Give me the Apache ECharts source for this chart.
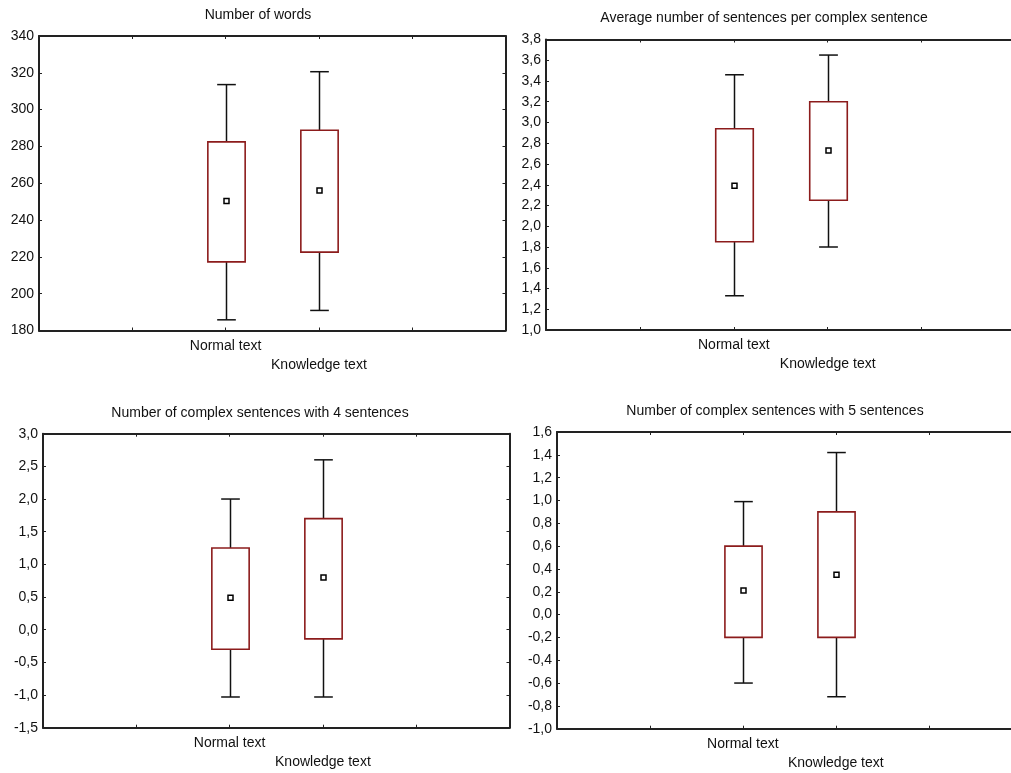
<!DOCTYPE html>
<html>
<head>
<meta charset="utf-8">
<script src="https://cdn.jsdelivr.net/npm/echarts@6/dist/echarts.min.js"></script>
<style>
html,body{margin:0;padding:0;background:#fff;}
#main{width:1011px;height:773px;}
</style>
</head>
<body>
<div id="main"></div>
<script>
// ---- data ----
const categories = ['Normal text', 'Knowledge text'];
const titles = [
  'Number of words',
  'Average number of sentences per complex sentence',
  'Number of complex sentences with 4 sentences',
  'Number of complex sentences with 5 sentences'
];
// each: [whisker low, box low, mean, box high, whisker high]
const wordsNormal    = [185.8, 217.3, 250.3, 282.5, 313.6];
const wordsKnowledge = [190.9, 222.6, 256.0, 288.8, 320.6];
const avgNormal      = [1.33, 1.85, 2.39, 2.94, 3.46];
const avgKnowledge   = [1.80, 2.25, 2.73, 3.20, 3.65];
const fourNormal     = [-1.03, -0.30, 0.49, 1.25, 2.00];
const fourKnowledge  = [-1.03, -0.14, 0.80, 1.70, 2.60];
const fiveNormal     = [-0.60, -0.20, 0.21, 0.60, 0.99];
const fiveKnowledge  = [-0.72, -0.20, 0.35, 0.90, 1.42];
// y axis ticks: min, max, interval, decimals
const yMin      = [180, 1.0, -1.5, -1.0];
const yMax      = [340, 3.8, 3.0, 1.6];
const yInterval = [20, 0.2, 0.5, 0.2];
const yDecimals = [0, 1, 1, 1];

const panelData = [
  [wordsNormal, wordsKnowledge],
  [avgNormal, avgKnowledge],
  [fourNormal, fourKnowledge],
  [fiveNormal, fiveKnowledge]
];

// ---- layout ----
// right-hand panels run past the picture edge
const grids = [
  {left: 39,  top: 36,    width: 466.5, height: 294.5},
  {left: 546, top: 39.5,  width: 469.5, height: 290.5},
  {left: 43,  top: 433.7, width: 466.5, height: 294},
  {left: 557, top: 432,   width: 464.7, height: 296.7}
];
const titlePos = [[258, 15], [764, 18], [260, 413], [775, 411]];

const FONT = '"Liberation Sans", Arial, sans-serif';
const TXT = '#111';
const FRAME = '#222';
const BOX = '#8c1c1c';

const chart = echarts.init(document.getElementById('main'), null, {renderer: 'canvas'});

const xAxes = [], yAxes = [], series = [];
const catOffset = 2; // categories sit at x = 2, 3 on a 0..5 axis

const lineCfg = {show: true, onZero: false, lineStyle: {color: FRAME, width: 2}};
const tickCfg = {show: true, inside: true, length: 3, lineStyle: {color: FRAME, width: 1}};

grids.forEach((g, i) => {
  xAxes.push({
    type: 'value', gridIndex: i, min: 0, max: 5, interval: 1, position: 'bottom',
    axisLine: lineCfg, axisTick: tickCfg, splitLine: {show: false},
    axisLabel: {
      show: true, margin: 6, color: TXT, fontFamily: FONT, fontSize: 14, lineHeight: 19,
      formatter: function (v) {
        const idx = Math.round(v) - catOffset;
        if (idx >= 0 && idx < categories.length) {
          return (idx % 2 === 1 ? '\n' : '') + categories[idx];
        }
        return '';
      }
    }
  });
  xAxes.push({
    type: 'value', gridIndex: i, min: 0, max: 5, interval: 1, position: 'top',
    axisLine: lineCfg, axisTick: tickCfg, splitLine: {show: false},
    axisLabel: {show: false}
  });
  yAxes.push({
    type: 'value', gridIndex: i, min: yMin[i], max: yMax[i], interval: yInterval[i], position: 'left',
    axisLine: lineCfg, axisTick: tickCfg, splitLine: {show: false},
    axisLabel: {
      show: true, margin: 5, color: TXT, fontFamily: FONT, fontSize: 14,
      formatter: function (v) { return v.toFixed(yDecimals[i]).replace('.', ','); }
    }
  });
  yAxes.push({
    type: 'value', gridIndex: i, min: yMin[i], max: yMax[i], interval: yInterval[i], position: 'right',
    axisLine: lineCfg, axisTick: tickCfg, splitLine: {show: false},
    axisLabel: {show: false}
  });

  const data = panelData[i].map((arr, k) => [k + catOffset].concat(arr));
  series.push({
    type: 'custom',
    xAxisIndex: i * 2,
    yAxisIndex: i * 2,
    clip: false,
    encode: {x: 0, y: [1, 2, 3, 4, 5]},
    data: data,
    renderItem: function (params, api) {
      const x = api.value(0);
      const wLo = api.coord([x, api.value(1)]);
      const bLo = api.coord([x, api.value(2)]);
      const mn  = api.coord([x, api.value(3)]);
      const bHi = api.coord([x, api.value(4)]);
      const wHi = api.coord([x, api.value(5)]);
      const boxW = api.size([0.4, 0])[0];
      const capW = api.size([0.2, 0])[0];
      const cx = Math.round(wLo[0]) + 0.5;
      const wStyle = {stroke: '#111', lineWidth: 1.5};
      return {
        type: 'group',
        children: [
          {type: 'line', shape: {x1: cx, y1: wLo[1], x2: cx, y2: bLo[1]}, style: wStyle},
          {type: 'line', shape: {x1: cx, y1: bHi[1], x2: cx, y2: wHi[1]}, style: wStyle},
          {type: 'line', shape: {x1: cx - capW / 2, y1: wLo[1], x2: cx + capW / 2, y2: wLo[1]}, style: wStyle},
          {type: 'line', shape: {x1: cx - capW / 2, y1: wHi[1], x2: cx + capW / 2, y2: wHi[1]}, style: wStyle},
          {type: 'rect', shape: {x: cx - boxW / 2, y: bHi[1], width: boxW, height: bLo[1] - bHi[1]},
            style: {fill: '#fff', stroke: BOX, lineWidth: 1.6}},
          {type: 'rect', shape: {x: cx - 2.5, y: mn[1] - 2.5, width: 5, height: 5},
            style: {fill: '#fff', stroke: '#000', lineWidth: 1.5}}
        ]
      };
    }
  });
});

const graphics = titles.map((t, i) => ({
  type: 'text', x: titlePos[i][0], y: titlePos[i][1],
  style: {text: t, fill: TXT, font: '14px ' + FONT, textAlign: 'center', textVerticalAlign: 'middle'}
}));

chart.setOption({
  animation: false,
  backgroundColor: '#fff',
  grid: grids.map(g => Object.assign({containLabel: false, outerBoundsMode: 'none'}, g)),
  xAxis: xAxes,
  yAxis: yAxes,
  series: series,
  graphic: graphics
});
</script>
</body>
</html>
